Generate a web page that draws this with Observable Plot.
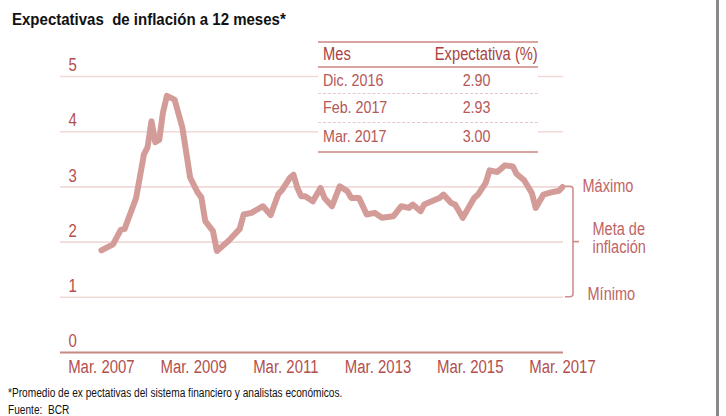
<!DOCTYPE html>
<html><head><meta charset="utf-8">
<script src="https://cdn.jsdelivr.net/npm/d3@7"></script>
<script src="https://cdn.jsdelivr.net/npm/@observablehq/plot@0.6"></script>
<style>
body{margin:0;background:#fff;}
#wrap{position:relative;width:726px;height:416px;overflow:hidden;background:#fff;font-family:"Liberation Sans",Arial,sans-serif;}
#chart{position:absolute;left:0;top:0;}
#title{position:absolute;left:12px;top:11px;font:bold 16.5px/16px "Liberation Sans",Arial,sans-serif;color:#111;white-space:pre;transform:scaleX(0.91);transform-origin:0 0;}
.foot{position:absolute;left:8px;font:12.5px/12px "Liberation Sans",Arial,sans-serif;color:#111;white-space:pre;transform:scaleX(0.81);transform-origin:0 0;}
#edge{position:absolute;left:716px;top:0;width:2.5px;height:416px;background:#8a8a8a;}
#tbl{position:absolute;left:318px;top:41px;width:220px;background:#fff;border-collapse:collapse;font-family:"Liberation Sans",Arial,sans-serif;table-layout:fixed;}
#tbl td,#tbl th{padding:0;vertical-align:middle;font-weight:normal;white-space:nowrap;}
#tbl th{font-size:17.5px;color:#a84444;height:23px;border-top:2px solid #d8a4a2;border-bottom:2px solid #d8a4a2;}
#tbl td{font-size:17px;color:#b45858;border-bottom:1px dashed #e6c8c7;}
#tbl tr.last td{border-bottom:2px solid #d8a4a2;}
#tbl .c1{width:102px;text-align:left;padding-left:5px;}
#tbl .c2{width:103px;text-align:center;padding-right:10px;}
#tbl span{display:inline-block;transform:scaleX(0.84);}
#tbl .c1 span{transform-origin:0 50%;}
#tbl .c2 span{transform-origin:50% 50%;}
</style></head><body>
<div id="wrap">
  <div id="chart"></div>
  <div id="title"></div>
  <table id="tbl"></table>
  <div class="foot" id="f1" style="top:387px"></div>
  <div class="foot" id="f2" style="top:404px"></div>
  <div id="edge"></div>
</div>
<script>
// ---- data ----
const titleText = "Expectativas  de inflación a 12 meses*";
const footNote = "*Promedio de ex pectativas del sistema financiero y analistas económicos.";
const sourceText = "Fuente:  BCR";

const months = ["2007-03","2007-06","2007-08","2007-09","2007-12","2008-02","2008-03","2008-04","2008-05","2008-06","2008-07","2008-08","2008-10","2008-12","2009-02","2009-04","2009-05","2009-06","2009-08","2009-09","2009-12","2010-03","2010-04","2010-06","2010-09","2010-11","2011-01","2011-02","2011-04","2011-05","2011-06","2011-07","2011-08","2011-10","2011-12","2012-01","2012-03","2012-05","2012-07","2012-08","2012-10","2012-12","2013-02","2013-04","2013-07","2013-09","2013-11","2013-12","2014-02","2014-03","2014-06","2014-07","2014-08","2014-10","2014-11","2015-01","2015-04","2015-05","2015-07","2015-08","2015-10","2015-12","2016-02","2016-03","2016-05","2016-07","2016-08","2016-10","2016-12","2017-02","2017-03"];
const values = [1.85,1.96,2.22,2.24,2.80,3.59,3.72,4.19,3.81,3.85,4.35,4.65,4.58,4.08,3.17,2.90,2.81,2.38,2.20,1.84,2.02,2.24,2.50,2.53,2.65,2.49,2.87,2.95,3.16,3.22,2.98,2.83,2.83,2.74,2.98,2.80,2.65,3.01,2.92,2.80,2.80,2.50,2.53,2.44,2.47,2.65,2.62,2.68,2.56,2.68,2.77,2.80,2.86,2.71,2.68,2.44,2.80,2.86,3.07,3.30,3.27,3.39,3.37,3.24,3.12,2.89,2.62,2.86,2.90,2.93,3.00];

const xTickMonths = ["2007-03","2009-03","2011-03","2013-03","2015-03","2017-03"];
const xTickLabels = ["Mar. 2007","Mar. 2009","Mar. 2011","Mar. 2013","Mar. 2015","Mar. 2017"];
const yTicks = [0,1,2,3,4,5];

const tableHeader = ["Mes","Expectativa (%)"];
const tableMonths = ["Dic. 2016","Feb. 2017","Mar. 2017"];
const tableValues = ["2.90","2.93","3.00"];

const bandMax = 3, bandTarget = 2, bandMin = 1;
const labelMax = "Máximo", labelTarget = "Meta de\ninflación", labelMin = "Mínimo";

// ---- build ----
const parse = d3.utcParse("%Y-%m");
const series = months.map((m,i)=>({date: parse(m), value: values[i]}));
const xTicks = xTickMonths.map((m,i)=>({date: parse(m), label: xTickLabels[i]}));

const red = "#b25050";
const lineColor = "#d49c99";
const gridColor = "#f1d9d8";
const font = '"Liberation Sans",Arial,sans-serif';

function bracket(index, scales, values, dimensions) {
  const y = scales.y;
  const bx = dimensions.width - dimensions.marginRight + 10;
  const yt = y(bandMax), yb = y(bandMin), ym = y(bandTarget);
  const g = d3.create("svg:g");
  g.append("path")
    .attr("d", `M${bx-8},${yt} H${bx-3} Q${bx},${yt} ${bx},${yt+3} V${yb-3} Q${bx},${yb} ${bx-3},${yb} H${bx-8} M${bx},${ym} H${bx+6}`)
    .attr("fill","none").attr("stroke","#cf8f8c").attr("stroke-width",1.6);
  return g.node();
}

const chart = Plot.plot({
  width: 726, height: 416,
  marginLeft: 60, marginRight: 163, marginTop: 76, marginBottom: 64,
  style: {fontFamily: font, background: "transparent"},
  x: {type: "utc", domain: [new Date(Date.UTC(2006,3,11)), new Date(Date.UTC(2017,2,9))], axis: null},
  y: {domain: [0,5], axis: null},
  marks: [
    Plot.ruleY(yTicks.filter(d=>d>0), {stroke: gridColor, strokeWidth: 1.6}),
    Plot.ruleY([0], {stroke: "#c88886", strokeWidth: 2}),
    Plot.line(series, {x: "date", y: "value", stroke: lineColor, strokeWidth: 6, strokeLinejoin: "round", strokeLinecap: "round"}),
    Plot.text(yTicks, {y: d=>d, text: d=>String(d), frameAnchor: "left", textAnchor: "start", dx: 8, dy: -11, fontSize: 18, fill: red}),
    Plot.text(xTicks, {x: "date", text: "label", frameAnchor: "bottom", lineAnchor: "top", dy: 8, fontSize: 18, fill: red}),
    bracket,
    Plot.text([bandMax], {y: d=>d, text: ()=>labelMax, frameAnchor: "right", textAnchor: "start", dx: 19, dy: -1, fontSize: 17.5, fill: "#c06464"}),
    Plot.text([bandTarget], {y: d=>d, text: ()=>labelTarget, frameAnchor: "right", textAnchor: "start", dx: 29, dy: -4, lineHeight: 1.05, fontSize: 17.5, fill: "#c06464"}),
    Plot.text([bandMin], {y: d=>d, text: ()=>labelMin, frameAnchor: "right", textAnchor: "start", dx: 24, dy: -3, fontSize: 17.5, fill: "#c06464"})
  ]
});
document.getElementById("chart").appendChild(chart);

// condense SVG text horizontally (narrow face not available)
chart.querySelectorAll("text").forEach(t => {
  const parts = t.querySelectorAll("tspan").length ? t.querySelectorAll("tspan") : [t];
  parts.forEach(p => {
    const len = p.getComputedTextLength();
    if (len > 0) {
      p.setAttribute("textLength", (len * 0.83).toFixed(2));
      p.setAttribute("lengthAdjust", "spacingAndGlyphs");
    }
  });
});

document.getElementById("title").textContent = titleText;
document.getElementById("f1").textContent = footNote;
document.getElementById("f2").textContent = sourceText;

const tbl = document.getElementById("tbl");
let html = `<tr><th class="c1"><span>${tableHeader[0]}</span></th><th class="c2"><span>${tableHeader[1]}</span></th></tr>`;
tableMonths.forEach((m,i)=>{
  const h = i===0 ? 25 : 28;
  html += `<tr class="${i===tableMonths.length-1?'last':''}"><td class="c1" style="height:${h}px"><span>${m}</span></td><td class="c2" style="height:${h}px"><span>${tableValues[i]}</span></td></tr>`;
});
tbl.innerHTML = html;
</script>
</body></html>
